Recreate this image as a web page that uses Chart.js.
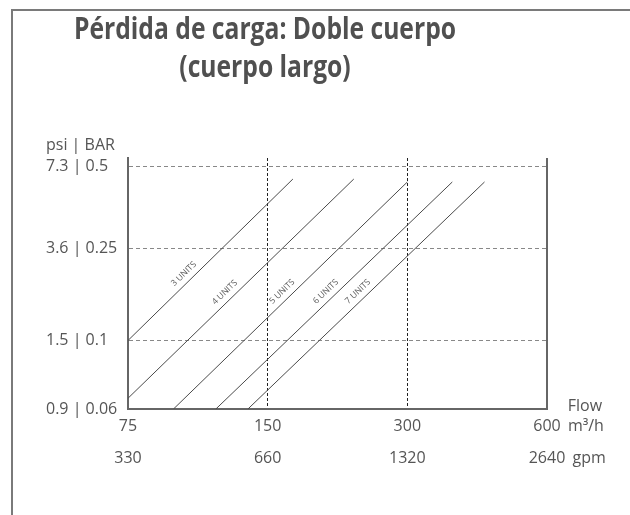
<!DOCTYPE html>
<html>
<head>
<meta charset="utf-8">
<title>Pérdida de carga: Doble cuerpo</title>
<script src="https://cdn.jsdelivr.net/npm/chart.js@4.4.1/dist/chart.umd.min.js"></script>
<style>
  html, body { margin: 0; padding: 0; background: #fff; }
  canvas { display: block; }
</style>
</head>
<body>
<canvas id="lossChart" width="630" height="515"></canvas>
<script>
  const titleLines = ["Pérdida de carga: Doble cuerpo", "(cuerpo largo)"];

  // x axis: flow, m3/h with the gpm equivalents under it
  const flowTicks = [75, 150, 300, 600];
  const gpmTicks = ["330", "660", "1320", "2640"];

  // y axis: pressure loss in BAR with the psi equivalents
  const barTicks = [0.06, 0.1, 0.25, 0.5];
  const psiTicks = ["0.9", "1.5", "3.6", "7.3"];

  // one straight line per number of units (flow m3/h, loss BAR)
  const unitNames = ["3 UNITS", "4 UNITS", "5 UNITS", "6 UNITS", "7 UNITS"];
  const startFlow = [75, 75, 94, 116, 136];
  const startBar = [0.1, 0.065, 0.06, 0.06, 0.06];
  const endFlow = [170, 230, 300, 375, 440];
  const endBar = [0.448, 0.448, 0.437, 0.437, 0.437];

  const textColor = "#555";
  const fontFamily = '"Open Sans", sans-serif';

  // the BAR ticks are not evenly spaced on the original sheet,
  // so the scale is log between ticks, each tick at its own height
  const barTickPlace = [0, 0.273, 0.641, 0.968];

  class PlacedLogScale extends Chart.LinearScale {
    decimalFor(v) {
      let i = 0;
      while (i < barTicks.length - 2 && v > barTicks[i + 1]) i++;
      const a = Math.log10(barTicks[i]);
      const b = Math.log10(barTicks[i + 1]);
      return barTickPlace[i] + ((Math.log10(v) - a) / (b - a)) * (barTickPlace[i + 1] - barTickPlace[i]);
    }
    getPixelForValue(v) {
      if (v === null || v === undefined || !(v > 0)) return NaN;
      return this.getPixelForDecimal(this.decimalFor(v));
    }
    getValueForPixel(px) {
      const d = this.getDecimalForPixel(px);
      let i = 0;
      while (i < barTickPlace.length - 2 && d > barTickPlace[i + 1]) i++;
      const a = Math.log10(barTicks[i]);
      const b = Math.log10(barTicks[i + 1]);
      const f = (d - barTickPlace[i]) / (barTickPlace[i + 1] - barTickPlace[i]);
      return Math.pow(10, a + f * (b - a));
    }
  }
  PlacedLogScale.id = "placedLog";
  PlacedLogScale.defaults = {};
  Chart.register(PlacedLogScale);

  const labelAlong = [0.375, 0.455, 0.49, 0.49, 0.49];

  const sheetText = {
    id: "sheetText",
    beforeDraw(chart) {
      const { ctx } = chart;
      ctx.save();
      ctx.fillStyle = "#fff";
      ctx.fillRect(0, 0, chart.width, chart.height);
      ctx.strokeStyle = "#7a7a7a";
      ctx.lineWidth = 2;
      ctx.beginPath();
      ctx.moveTo(12, chart.height);
      ctx.lineTo(12, 10);
      ctx.lineTo(chart.width, 10);
      ctx.stroke();
      ctx.restore();
    },
    afterDatasetsDraw(chart) {
      const { ctx } = chart;
      ctx.save();
      ctx.fillStyle = textColor;
      ctx.font = "8.5px " + fontFamily;
      ctx.textAlign = "center";
      ctx.textBaseline = "middle";
      chart.data.datasets.forEach((ds, i) => {
        const pts = chart.getDatasetMeta(i).data;
        const a = pts[0];
        const b = pts[1];
        const t = labelAlong[i];
        const x = a.x + (b.x - a.x) * t;
        const y = a.y + (b.y - a.y) * t;
        ctx.save();
        ctx.translate(x, y);
        ctx.rotate(Math.atan2(b.y - a.y, b.x - a.x));
        ctx.fillText(ds.label, 0, -8.5);
        ctx.restore();
      });
      ctx.restore();
    },
    afterDraw(chart) {
      const { ctx } = chart;
      const xs = chart.scales.x;
      const ys = chart.scales.y;
      ctx.save();
      ctx.fillStyle = "#505050";

      // title
      ctx.font = "bold 30px " + fontFamily;
      ctx.textAlign = "center";
      ctx.textBaseline = "alphabetic";
      const sx = Math.min(1, 382 / ctx.measureText(titleLines[0]).width);
      ctx.save();
      ctx.translate(265, 0);
      ctx.scale(sx, 1);
      ctx.fillText(titleLines[0], 0, 39);
      ctx.fillText(titleLines[1], 0, 77);
      ctx.restore();

      // axis captions
      ctx.fillStyle = textColor;
      ctx.font = "16px " + fontFamily;
      ctx.textAlign = "left";
      ctx.textBaseline = "middle";
      ctx.fillText("psi | BAR", ys.left, ys.getPixelForValue(barTicks[barTicks.length - 1]) - 21);

      const last = flowTicks.length - 1;
      const px = xs.getPixelForValue(flowTicks[last]);
      const row1 = xs.top + 17;
      const row2 = row1 + 32;
      const x1 = px + ctx.measureText(String(flowTicks[last])).width / 2 + 3;
      const x2 = px + ctx.measureText(gpmTicks[last]).width / 2 + 3;
      ctx.fillText(" m³/h", x1, row1);
      ctx.fillText(" gpm", x2, row2);
      ctx.fillText("Flow", x1 + 4, row1 - 20);
      ctx.restore();
    },
  };

  const ctx = document.getElementById("lossChart").getContext("2d");
  new Chart(ctx, {
    type: "line",
    data: {
      datasets: unitNames.map((name, i) => ({
        label: name,
        data: [
          { x: startFlow[i], y: startBar[i] },
          { x: endFlow[i], y: endBar[i] },
        ],
        borderColor: "#4a4a4a",
        borderWidth: 1,
        pointRadius: 0,
        fill: false,
        tension: 0,
      })),
    },
    options: {
      responsive: false,
      animation: false,
      events: [],
      layout: { padding: { left: 46, right: 83, top: 158, bottom: 36 } },
      plugins: {
        legend: { display: false },
        tooltip: { enabled: false },
        title: { display: false },
      },
      scales: {
        x: {
          type: "logarithmic",
          min: flowTicks[0],
          max: flowTicks[flowTicks.length - 1],
          afterBuildTicks: (s) => {
            s.ticks = flowTicks.map((v) => ({ value: v }));
          },
          afterFit: (s) => {
            s.height = 70;
          },
          border: {
            display: true,
            color: "#666",
            width: 2,
            dash: (c) => (c.tick && c.tick.value === flowTicks[flowTicks.length - 1] ? [] : [3, 2]),
          },
          grid: {
            drawTicks: false,
            color: (c) => {
              const v = c.tick && c.tick.value;
              if (v === flowTicks[0]) return "rgba(0,0,0,0)";
              if (v === flowTicks[flowTicks.length - 1]) return "#666";
              return "#222";
            },
            lineWidth: (c) => (c.tick && c.tick.value === flowTicks[flowTicks.length - 1] ? 2 : 1),
          },
          ticks: {
            autoSkip: false,
            maxRotation: 0,
            padding: 1,
            color: textColor,
            font: { family: fontFamily, size: 16, lineHeight: 2 },
            callback: (value, index) => [String(flowTicks[index]), gpmTicks[index]],
          },
        },
        y: {
          type: "placedLog",
          min: barTicks[0],
          max: barTicks[barTicks.length - 1],
          afterBuildTicks: (s) => {
            s.ticks = barTicks.map((v) => ({ value: v }));
          },
          afterFit: (s) => {
            s.width = 82;
          },
          border: { display: true, color: "#666", width: 2, dash: [4, 3] },
          grid: {
            drawTicks: false,
            color: (c) => (c.tick && c.tick.value === barTicks[0] ? "rgba(0,0,0,0)" : "#888"),
            lineWidth: 1,
          },
          ticks: {
            crossAlign: "far",
            padding: 4,
            color: textColor,
            font: { family: fontFamily, size: 16 },
            callback: (value, index) => psiTicks[index] + " | " + barTicks[index],
          },
        },
      },
    },
    plugins: [sheetText],
  });
</script>
</body>
</html>
